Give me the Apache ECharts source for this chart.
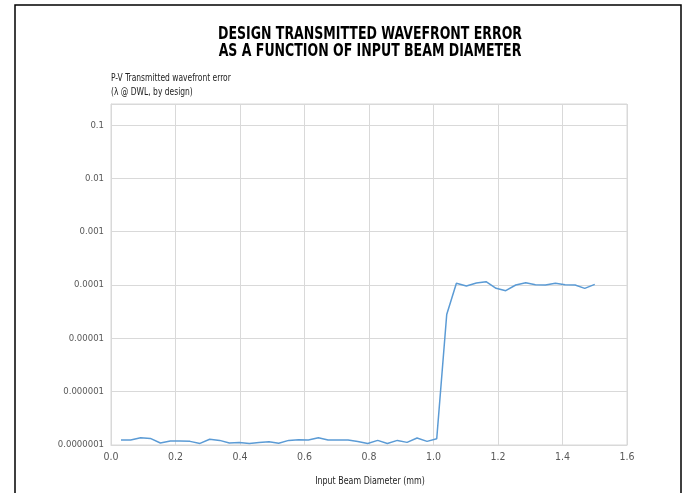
<!DOCTYPE html>
<html>
<head>
<meta charset="utf-8">
<script src="https://cdn.jsdelivr.net/npm/echarts@6/dist/echarts.min.js"></script>
<style>html,body{margin:0;padding:0;background:#fff}#c{width:683px;height:493px}</style>
</head>
<body>
<div id="c"></div>
<script>
var diameters = [0.031, 0.061, 0.092, 0.122, 0.153, 0.184, 0.214, 0.245, 0.276, 0.306,
  0.337, 0.367, 0.398, 0.429, 0.459, 0.490, 0.520, 0.551, 0.582, 0.612,
  0.643, 0.673, 0.704, 0.735, 0.765, 0.796, 0.827, 0.857, 0.888, 0.918,
  0.949, 0.980, 1.010, 1.041, 1.071, 1.102, 1.133, 1.163, 1.194, 1.224,
  1.255, 1.286, 1.316, 1.347, 1.378, 1.408, 1.439, 1.469, 1.500];
var wavefrontError = [1.24e-7, 1.24e-7, 1.37e-7, 1.33e-7, 1.09e-7, 1.19e-7, 1.19e-7, 1.17e-7, 1.07e-7, 1.28e-7,
  1.22e-7, 1.09e-7, 1.11e-7, 1.07e-7, 1.11e-7, 1.15e-7, 1.08e-7, 1.22e-7, 1.26e-7, 1.24e-7,
  1.37e-7, 1.24e-7, 1.24e-7, 1.24e-7, 1.16e-7, 1.07e-7, 1.22e-7, 1.07e-7, 1.22e-7, 1.12e-7,
  1.35e-7, 1.17e-7, 1.31e-7, 2.8e-5, 1.075e-4, 0.958e-4, 1.09e-4, 1.155e-4, 0.866e-4, 0.783e-4,
  1.0e-4, 1.106e-4, 1.014e-4, 1.0e-4, 1.075e-4, 1.014e-4, 1.0e-4, 0.866e-4, 1.03e-4];
var yTickLabels = ['0.0000001', '0.000001', '0.00001', '0.0001', '0.001', '0.01', '0.1'];
var xTickLabels = ['0.0', '0.2', '0.4', '0.6', '0.8', '1.0', '1.2', '1.4', '1.6'];
var titleLines = ['DESIGN TRANSMITTED WAVEFRONT ERROR', 'AS A FUNCTION OF INPUT BEAM DIAMETER'];
var yName = ['P-V Transmitted wavefront error', '(\u03bb @ DWL, by design)'];
var xName = 'Input Beam Diameter (mm)';

var FONT = "'Liberation Sans Narrow', 'DejaVu Sans Condensed', 'Liberation Sans', sans-serif";
var chart = echarts.init(document.getElementById('c'), null, {renderer: 'canvas'});
var points = diameters.map(function (d, i) { return [d, wavefrontError[i]]; });

function txt(text, x, y, size, weight, color, sx, align) {
  return {
    type: 'text', x: x, y: y, scaleX: sx, silent: true,
    style: {text: text, fill: color, textAlign: align, textVerticalAlign: 'middle',
      font: weight + ' ' + size + 'px ' + FONT}
  };
}

chart.setOption({
  animation: false,
  backgroundColor: '#fff',
  graphic: [
    {type: 'rect', shape: {x: 15, y: 5, width: 666, height: 500},
     style: {fill: 'none', stroke: '#000', lineWidth: 1.5}, silent: true, z: -1},
    txt(titleLines[0], 370, 35, 17, 'bold', '#000', 0.82, 'center'),
    txt(titleLines[1], 370, 52, 17, 'bold', '#000', 0.82, 'center'),
    txt(yName[0], 111, 78, 10.5, 'normal', '#222', 0.8, 'left'),
    txt(yName[1], 111, 92, 10.5, 'normal', '#222', 0.8, 'left'),
    txt(xName, 370, 481, 10.5, 'normal', '#222', 0.84, 'center')
  ],
  grid: {left: 111, right: 56, top: 104, bottom: 48, show: true, borderColor: '#d9d9d9', borderWidth: 1},
  xAxis: {
    type: 'value', min: 0, max: 1.6, interval: 0.2,
    axisLine: {show: true, lineStyle: {color: '#d9d9d9'}},
    axisTick: {show: false},
    splitLine: {show: true, lineStyle: {color: '#d9d9d9'}},
    axisLabel: {
      fontFamily: FONT, fontSize: 10.5, color: '#595959', margin: 7,
      formatter: function (v) { return xTickLabels[Math.round(v / 0.2)]; }
    }
  },
  yAxis: {
    type: 'log', logBase: 10, min: 1e-7, max: 0.248, splitNumber: 6,
    axisLine: {show: true, lineStyle: {color: '#d9d9d9'}},
    axisTick: {show: false},
    splitLine: {show: true, lineStyle: {color: '#d9d9d9'}},
    axisLabel: {
      fontFamily: FONT, fontSize: 9.5, color: '#595959', margin: 7, showMaxLabel: false,
      formatter: function (v) {
        var l = Math.log10(v), e = Math.round(l);
        if (Math.abs(l - e) > 0.01) return '';
        return yTickLabels[e + 7] || '';
      }
    }
  },
  series: [{
    type: 'line', data: points, showSymbol: false, symbol: 'none',
    lineStyle: {color: '#5b9bd5', width: 1.5}
  }]
});
</script>
</body>
</html>
